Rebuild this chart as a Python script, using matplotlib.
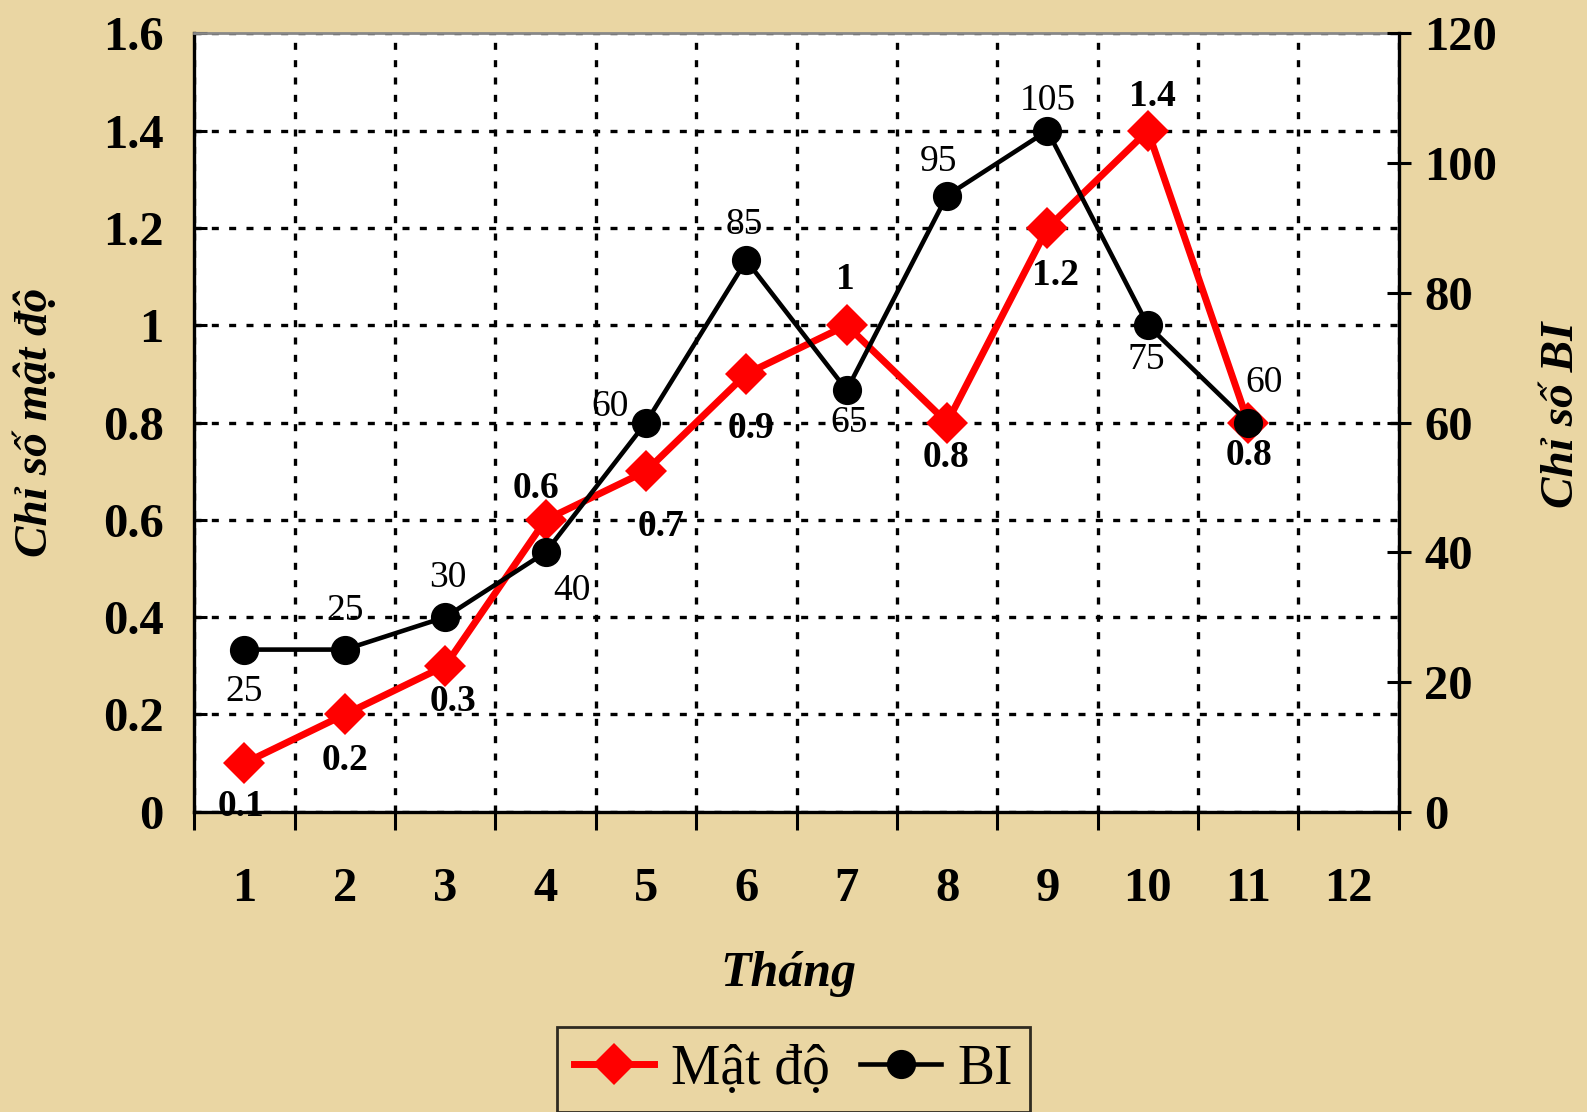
import matplotlib
matplotlib.use('Agg')
import matplotlib.pyplot as plt
from matplotlib.ticker import FixedLocator, NullFormatter

# ---- data ----
months = list(range(1, 13))
month_labels = [str(m) for m in months]
data_months = list(range(1, 12))
mat_do = [0.1, 0.2, 0.3, 0.6, 0.7, 0.9, 1.0, 0.8, 1.2, 1.4, 0.8]
bi = [25, 25, 30, 40, 60, 85, 65, 95, 105, 75, 60]
mat_do_labels = ['0.1', '0.2', '0.3', '0.6', '0.7', '0.9', '1', '0.8', '1.2', '1.4', '0.8']
bi_labels = [str(v) for v in bi]
left_ticks = [0, 0.2, 0.4, 0.6, 0.8, 1.0, 1.2, 1.4, 1.6]
left_tick_labels = ['0', '0.2', '0.4', '0.6', '0.8', '1', '1.2', '1.4', '1.6']
right_ticks = [0, 20, 40, 60, 80, 100, 120]

# ---- label offsets (pixels, dx, dy up) ----
red_off = [(-3, -43), (0, -45), (8, -35), (-9, 31), (15, -55), (5, -54),
           (-1, 45), (-1, -35), (8, -47), (5, 34), (1, -33)]
blk_off = [(0, -42), (0, 38), (3, 39), (26, -38), (-35, 16), (-2, 35),
           (2, -32), (-8, 33), (0, 30), (-2, -34), (16, 39)]
PX2PT = 1.012 * 72 / 100

SERIF = ['Liberation Serif', 'DejaVu Serif']
plt.rcParams['font.family'] = SERIF

BG = '#EAD6A3'
fig = plt.figure(figsize=(15.87, 11.12), dpi=100, facecolor=BG)
ax = fig.add_axes([0.1224, 0.270, 0.759, 0.700])
ax.set_facecolor('white')
ax.set_xlim(0.5, 12.5)
ax.set_ylim(0, 1.6)

# x ticks: labels at centres, tick marks at boundaries
ax.set_xticks(months)
ax.set_xticklabels(month_labels, fontsize=35, fontweight='bold')
ax.tick_params(axis='x', which='major', length=0, pad=40)
bounds = [m + 0.5 for m in range(0, 13)]
ax.xaxis.set_minor_locator(FixedLocator(bounds))
ax.xaxis.set_minor_formatter(NullFormatter())
ax.tick_params(axis='x', which='minor', direction='out', length=13, width=2.2)

ax.set_yticks(left_ticks)
ax.set_yticklabels(left_tick_labels, fontsize=35, fontweight='bold')
ax.tick_params(axis='y', direction='in', length=9, width=2.2, pad=22)

grid_style = dict(color='black', linewidth=2.4, linestyle=(0, (2.1, 3.1)))
ax.grid(True, axis='y', which='major', **grid_style)
ax.grid(True, axis='x', which='minor', **grid_style)
ax.set_axisbelow(True)

for s in ['left', 'bottom']:
    ax.spines[s].set_linewidth(2.4)
    ax.spines[s].set_color('black')
ax.spines['right'].set_visible(False)
ax.spines['top'].set_color('#888888')
ax.spines['top'].set_linewidth(2)

l1, = ax.plot(data_months, mat_do, color='#FF0000', linewidth=5, marker='D',
              markersize=21, markeredgewidth=0, label='Mật độ', zorder=3)

ax2 = ax.twinx()
ax2.set_ylim(0, 120)
ax2.set_yticks(right_ticks)
ax2.set_yticklabels([str(t) for t in right_ticks], fontsize=35, fontweight='bold')
ax2.tick_params(axis='y', direction='inout', length=17, width=2.2, pad=10)
ax2.spines['right'].set_linewidth(2.4)
ax2.spines['right'].set_color('black')
for s in ['left', 'top', 'bottom']:
    ax2.spines[s].set_visible(False)

l2, = ax2.plot(data_months, bi, color='black', linewidth=3.3, marker='o',
               markersize=20, label='BI', zorder=4)

for xi, v, t, (dx, dy) in zip(data_months, mat_do, mat_do_labels, red_off):
    ax.annotate(t, (xi, v), xytext=(dx * PX2PT, dy * PX2PT), textcoords='offset points',
                ha='center', va='center', fontsize=27, fontweight='bold', zorder=6)
for xi, v, t, (dx, dy) in zip(data_months, bi, bi_labels, blk_off):
    ax2.annotate(t, (xi, v), xytext=(dx * PX2PT, dy * PX2PT), textcoords='offset points',
                 ha='center', va='center', fontsize=27, zorder=6)

fig.text(0.497, 0.124, 'Tháng', fontsize=36, fontweight='bold', fontstyle='italic',
         ha='center', va='center')
fig.text(0.022, 0.62, 'Chỉ số mật độ', fontsize=34, fontweight='bold', fontstyle='italic',
         rotation=90, ha='center', va='center')
fig.text(0.984, 0.627, 'Chỉ số BI', fontsize=34, fontweight='bold', fontstyle='italic',
         rotation=90, ha='center', va='center')

leg = fig.legend(handles=[l1, l2], loc='upper center', bbox_to_anchor=(0.5, 0.0764),
                 ncol=2, frameon=True, fancybox=False, handlelength=1.45,
                 handletextpad=0.3, columnspacing=0.55, borderpad=0.3, borderaxespad=0,
                 prop={'family': SERIF, 'size': 40})
leg.get_frame().set_edgecolor('black')
leg.get_frame().set_linewidth(2)
leg.get_frame().set_facecolor('none')

fig.savefig('out.png', dpi=100, facecolor=BG)
